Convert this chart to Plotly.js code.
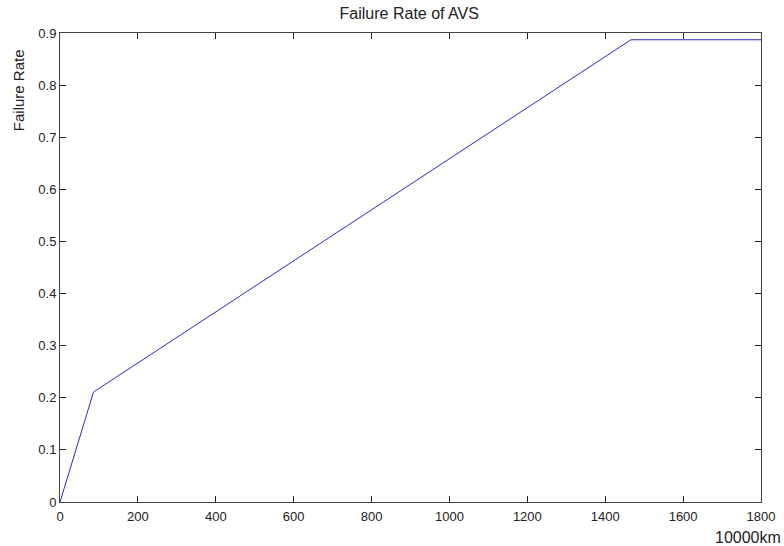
<!DOCTYPE html>
<html><head><meta charset="utf-8">
<script src="https://cdn.plot.ly/plotly-3.0.1.min.js"></script>
<style>html,body{margin:0;padding:0;background:#fff}</style>
</head><body>
<div id="chart" style="width:784px;height:546px"></div>
<script>
const distance = [0, 86, 1466, 1800];
const failureRate = [0, 0.211, 0.887, 0.887];
const xTicks = [0, 200, 400, 600, 800, 1000, 1200, 1400, 1600, 1800];
const yTicks = [0, 0.1, 0.2, 0.3, 0.4, 0.5, 0.6, 0.7, 0.8, 0.9];

const font = {family: 'Liberation Sans, Arial, sans-serif', size: 13, color: '#222'};
Plotly.newPlot('chart', [{
  x: distance, y: failureRate, type: 'scatter', mode: 'lines',
  line: {color: '#2a2acc', width: 1}, hoverinfo: 'none'
}], {
  width: 784, height: 546,
  margin: {l: 60, r: 23, t: 33, b: 44},
  paper_bgcolor: '#fff', plot_bgcolor: '#fff',
  showlegend: false,
  font: font,
  title: {text: 'Failure Rate of AVS', x: 0.522, xanchor: 'center', y: 0.976, yanchor: 'middle', font: {family: font.family, size: 16, color: '#222'}},
  xaxis: {range: [0, 1800], tickvals: xTicks, ticktext: xTicks.map(String), ticks: 'inside', ticklen: 6,
    tickcolor: '#222', showline: true, linecolor: '#444', linewidth: 1, mirror: 'ticks', showgrid: false, zeroline: false,
    tickfont: font, ticklabelstandoff: 2, fixedrange: true},
  yaxis: {range: [0, 0.9], tickvals: yTicks, ticktext: yTicks.map(String), ticks: 'inside', ticklen: 6,
    tickcolor: '#222', showline: true, linecolor: '#444', linewidth: 1, mirror: 'ticks', showgrid: false, zeroline: false,
    tickfont: font, fixedrange: true},
  annotations: [
    {text: 'Failure Rate', xref: 'paper', yref: 'paper', x: -0.06, y: 0.878, textangle: -90,
     showarrow: false, xanchor: 'center', yanchor: 'middle', font: {family: font.family, size: 15, color: '#222'}},
    {text: '10000km', xref: 'paper', yref: 'paper', x: 1.031, y: -0.075, xanchor: 'right', yanchor: 'middle',
     showarrow: false, font: {family: font.family, size: 16, color: '#222'}}
  ]
}, {displayModeBar: false, staticPlot: true});
</script>
</body></html>
